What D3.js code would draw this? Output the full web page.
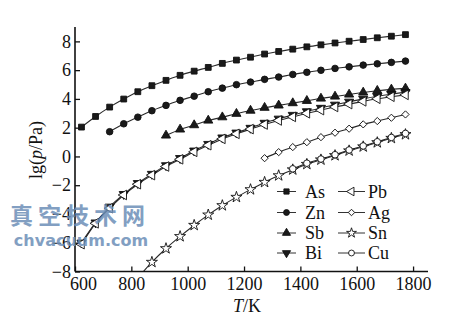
<!DOCTYPE html>
<html><head><meta charset="utf-8">
<script src="https://cdn.jsdelivr.net/npm/d3@7"></script>
<style>body{margin:0;background:#fff}svg{display:block}</style>
</head><body>
<script>
// Temperatures (K) at which each series is sampled
const temps = [623,673,723,773,823,873,923,973,1023,1073,1123,1173,1223,1273,1323,1373,1423,1473,1523,1573,1623,1673,1723,1773];
const seriesNames = ["As","Zn","Sb","Bi","Pb","Ag","Sn","Cu"];
const startT = {As:623, Zn:723, Sb:923, Bi:623, Pb:623, Ag:1273, Sn:823, Cu:1373};
const As = [2.04,2.78,3.43,3.99,4.50,4.92,5.29,5.64,5.93,6.19,6.47,6.70,6.90,7.12,7.30,7.46,7.62,7.76,7.89,8.01,8.13,8.25,8.36,8.47];
const Zn = [1.72,2.27,2.73,3.18,3.55,3.90,4.19,4.50,4.75,4.99,5.17,5.36,5.52,5.70,5.85,5.99,6.12,6.23,6.35,6.44,6.54,6.63];
const Sb = [1.46,1.88,2.18,2.50,2.73,2.97,3.19,3.39,3.55,3.71,3.87,4.03,4.17,4.31,4.45,4.57,4.66,4.73];
const Bi = [-6.0,-4.6,-3.5,-2.62,-1.86,-1.22,-0.62,-0.12,0.40,0.86,1.31,1.65,1.98,2.33,2.62,2.88,3.13,3.37,3.59,3.80,4.00,4.18,4.33,4.47];
const Pb = [-6.1,-4.65,-3.6,-2.68,-1.93,-1.30,-0.70,-0.20,0.32,0.78,1.22,1.57,1.90,2.22,2.50,2.75,3.00,3.22,3.44,3.64,3.83,4.01,4.15,4.28];
const Ag = [-0.12,0.30,0.65,0.99,1.34,1.65,1.93,2.23,2.46,2.69,2.92];
const Sn = [-8.45,-7.35,-6.40,-5.56,-4.78,-4.06,-3.41,-2.83,-2.30,-1.79,-1.33,-0.92,-0.54,-0.23,0.07,0.40,0.68,0.97,1.27,1.53];
const Cu = [-0.86,-0.47,-0.18,0.12,0.45,0.73,1.02,1.32,1.60];
const xTicks = [600,800,1000,1200,1400,1600,1800];
const yTicks = [-8,-6,-4,-2,0,2,4,6,8];
const xTitle = "K";
const yTitle = "lg(p/Pa)";

const values = {As,Zn,Sb,Bi,Pb,Ag,Sn,Cu};
const W = 455, H = 334;
const svg = d3.select("body").append("svg").attr("width",W).attr("height",H);
const x = d3.scaleLinear().domain([600,1853]).range([75,428]);
const y = d3.scaleLinear().domain([-8,9]).range([271.5,27]);

const font = "'Liberation Serif','Times New Roman',serif";

svg.append("clipPath").attr("id","clip").append("rect")
  .attr("x",75).attr("y",20).attr("width",360).attr("height",251.5);

const markerDef = {
  As:{type:d3.symbolSquare,size:34,rot:0,fill:"#1a1a1a"},
  Zn:{type:d3.symbolCircle,size:34,rot:0,fill:"#1a1a1a"},
  Sb:{type:d3.symbolTriangle,size:36,rot:0,fill:"#1a1a1a"},
  Bi:{type:d3.symbolTriangle,size:36,rot:180,fill:"#1a1a1a"},
  Pb:{type:d3.symbolTriangle,size:40,rot:-90,fill:"#fff"},
  Ag:{type:d3.symbolSquare,size:26,rot:45,fill:"#fff"},
  Sn:{type:d3.symbolStar,size:38,rot:0,fill:"#fff"},
  Cu:{type:d3.symbolCircle,size:34,rot:0,fill:"#fff"}
};

const data = seriesNames.map(n => {
  const i0 = temps.indexOf(startT[n]);
  return {name:n, pts: values[n].map((v,i)=>({t:temps[i0+i], v}))};
});

const line = d3.line().x(d=>x(d.t)).y(d=>y(d.v)).curve(d3.curveMonotoneX);
const gLines = svg.append("g").attr("clip-path","url(#clip)");
gLines.selectAll("path").data(data).join("path")
  .attr("d",d=>line(d.pts)).attr("fill","none").attr("stroke","#2a2a2a").attr("stroke-width",1.1);

const gM = svg.append("g");
data.forEach(s=>{
  const m = markerDef[s.name];
  gM.selectAll(null).data(s.pts.filter(p=>p.v>=-8)).join("path")
    .attr("d",d3.symbol().type(m.type).size(m.size))
    .attr("transform",d=>`translate(${x(d.t)},${y(d.v)}) rotate(${m.rot})`)
    .attr("fill",m.fill).attr("stroke","#111").attr("stroke-width",0.9);
});

// axes
const ax = svg.append("g").attr("transform","translate(0,271.5)")
  .call(d3.axisBottom(x).tickValues(xTicks).tickSizeInner(-5).tickSizeOuter(0).tickPadding(6).tickFormat(d3.format("d")));
ax.select(".domain").attr("d","M75,0H428").attr("stroke","#111").attr("stroke-width",1.6);
ax.selectAll(".tick line").attr("stroke","#111").attr("stroke-width",1.3);
ax.selectAll("text").attr("font-family",font).attr("font-size",18).attr("fill","#111");
ax.selectAll(".tick").filter(d=>d===600).select("text").attr("dx",8);

const ay = svg.append("g").attr("transform","translate(75,0)")
  .call(d3.axisLeft(y).tickValues(yTicks).tickSizeInner(-5).tickSizeOuter(0).tickPadding(4));
ay.select(".domain").attr("d","M0,27V271.5").attr("stroke","#111").attr("stroke-width",1.6);
ay.selectAll(".tick line").attr("stroke","#111").attr("stroke-width",1.3);
ay.selectAll("text").attr("font-family",font).attr("font-size",18).attr("fill","#111");

// titles
const xt = svg.append("text").attr("x",247).attr("y",312).attr("text-anchor","middle")
  .attr("font-family",font).attr("font-size",18).attr("fill","#111");
xt.append("tspan").attr("font-style","italic").text("T");
xt.append("tspan").text("/"+xTitle);

const yt = svg.append("text").attr("transform","translate(42,150) rotate(-90)").attr("text-anchor","middle")
  .attr("font-family",font).attr("font-size",18).attr("fill","#111");
yt.append("tspan").text("lg(");
yt.append("tspan").attr("font-style","italic").text("p");
yt.append("tspan").text("/Pa)");

// legend
const legRows = [191.5,212.5,233,253];
const legCols = [{x0:277,x1:296,tx:305},{x0:338,x1:365,tx:368}];
seriesNames.forEach((n,i)=>{
  const c = legCols[Math.floor(i/4)], ry = legRows[i%4];
  const m = markerDef[n];
  svg.append("line").attr("x1",c.x0).attr("x2",c.x1).attr("y1",ry).attr("y2",ry).attr("stroke","#333").attr("stroke-width",1);
  svg.append("path").attr("d",d3.symbol().type(m.type).size(m.size*0.8))
    .attr("transform",`translate(${(c.x0+c.x1)/2},${ry}) rotate(${m.rot})`)
    .attr("fill",m.fill).attr("stroke","#111").attr("stroke-width",0.9);
  svg.append("text").attr("x",c.tx).attr("y",ry+6).attr("font-family",font).attr("font-size",18).attr("fill","#111").text(n);
});

// watermark
svg.append("text").attr("x",80).attr("y",224).attr("text-anchor","middle")
  .attr("font-family","'Noto Sans CJK SC'").attr("font-weight","bold").attr("font-size",23)
  .attr("letter-spacing",5).attr("fill","#6d8fb8").attr("opacity",0.85).text("真空技术网");
svg.append("text").attr("x",81).attr("y",246).attr("text-anchor","middle")
  .attr("font-family","'DejaVu Sans'").attr("font-weight","bold").attr("font-size",16)
  .attr("fill","#6d8fb8").attr("opacity",0.85).text("chvacuum.com");
</script>
</body></html>
